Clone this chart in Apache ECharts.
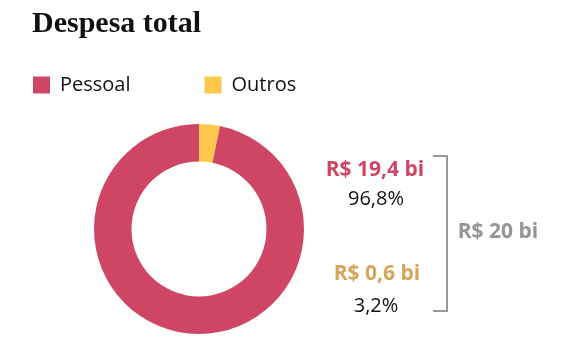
<!DOCTYPE html>
<html><head><meta charset="utf-8">
<script src="https://cdn.jsdelivr.net/npm/echarts@6/dist/echarts.min.js"></script>
<style>html,body{margin:0;padding:0;background:#fff}#c{width:561px;height:359px}</style>
</head><body><div id="c"></div>
<script>
const categories = ['Pessoal', 'Outros'];
const valuesBi = ['R$ 19,4 bi', 'R$ 0,6 bi'];
const shares = [96.8, 3.2];
const shareLabels = ['96,8%', '3,2%'];
const totalLabel = 'R$ 20 bi';
const colors = ['#cf4664', '#fec84d'];
const labelColors = ['#cf4664', '#d5a55c'];

const chart = echarts.init(document.getElementById('c'), null, {renderer: 'canvas'});
// clockwise from 12 o'clock: Outros first, then Pessoal
const pieData = [1, 0].map(i => ({name: categories[i], value: shares[i], itemStyle: {color: colors[i]}}));

const sans = '"Open Sans", "Noto Sans", sans-serif';
chart.setOption({
  animation: false,
  title: {
    text: 'Despesa total', left: 27, top: 4,
    textStyle: {fontFamily: '"Liberation Serif", serif', fontWeight: 'bold', fontSize: 30, color: '#111'}
  },
  legend: {
    data: categories, left: 28, top: 70, icon: 'rect', itemWidth: 17, itemHeight: 17, itemGap: 74,
    selectedMode: false,
    textStyle: {fontFamily: sans, fontSize: 20, color: '#111', padding: [0, 0, 0, 5]}
  },
  series: [{
    type: 'pie', center: [199, 229], radius: [67.5, 105], startAngle: 90, clockwise: true,
    label: {show: false}, labelLine: {show: false}, silent: true,
    itemStyle: {borderWidth: 0},
    data: pieData
  }],
  graphic: [
    {type: 'text', x: 375, y: 170, style: {text: valuesBi[0], fill: labelColors[0], font: 'bold 21px ' + sans, align: 'center', verticalAlign: 'middle'}},
    {type: 'text', x: 376, y: 199, style: {text: shareLabels[0], fill: '#111', font: '20px ' + sans, align: 'center', verticalAlign: 'middle'}},
    {type: 'text', x: 377, y: 274, style: {text: valuesBi[1], fill: labelColors[1], font: 'bold 21px ' + sans, align: 'center', verticalAlign: 'middle'}},
    {type: 'text', x: 376, y: 306, style: {text: shareLabels[1], fill: '#111', font: '20px ' + sans, align: 'center', verticalAlign: 'middle'}},
    {type: 'polyline', shape: {points: [[433, 156], [447, 156], [447, 311], [433, 311]]}, style: {stroke: '#9a9a9a', lineWidth: 2, fill: null}},
    {type: 'text', x: 498, y: 232, style: {text: totalLabel, fill: '#959595', font: 'bold 21px ' + sans, align: 'center', verticalAlign: 'middle'}}
  ]
});
</script></body></html>
